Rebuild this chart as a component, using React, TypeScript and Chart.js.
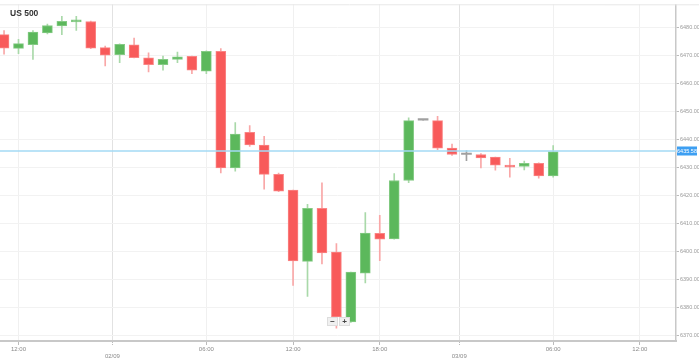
import React, { useEffect, useRef } from 'react';
import { Chart, registerables } from 'chart.js';

Chart.register(...registerables);

const chartTitle = 'US 500';

const openVals = [
  6477.3, 6472.4, 6473.7, 6477.9, 6480.4, 6481.9, 6482.0, 6472.7, 6470.2, 6473.7,
  6469.0, 6466.6, 6468.5, 6469.6, 6464.3, 6471.4, 6429.7, 6442.4, 6437.9, 6427.4,
  6421.8, 6396.3, 6415.3, 6399.6, 6374.7, 6392.1, 6406.3, 6404.3, 6425.2, 6446.8,
  6446.6, 6436.8, 6434.5, 6434.5, 6433.6, 6430.7, 6430.2, 6431.3, 6426.8,
];
const highVals = [
  6478.8, 6475.6, 6478.8, 6481.1, 6483.9, 6483.9, 6482.2, 6473.2, 6474.0, 6476.1,
  6470.8, 6469.7, 6471.1, 6469.7, 6471.5, 6472.3, 6445.9, 6444.8, 6441.0, 6427.9,
  6421.8, 6416.7, 6424.4, 6402.7, 6392.5, 6413.7, 6412.8, 6427.7, 6447.6, 6446.8,
  6448.1, 6438.2, 6435.9, 6434.8, 6433.6, 6433.1, 6432.1, 6431.5, 6437.7,
];
const lowVals = [
  6470.3, 6470.5, 6468.5, 6477.6, 6477.3, 6478.8, 6472.3, 6466.1, 6467.3, 6469.0,
  6464.0, 6464.6, 6467.3, 6463.4, 6463.4, 6427.9, 6428.5, 6437.4, 6422.1, 6421.2,
  6387.7, 6383.8, 6395.4, 6372.4, 6374.5, 6388.6, 6396.6, 6404.2, 6424.4, 6446.8,
  6436.2, 6434.2, 6432.3, 6429.7, 6428.9, 6426.4, 6429.0, 6426.0, 6426.4,
];
const closeVals = [
  6472.5, 6474.1, 6478.2, 6480.6, 6482.1, 6482.6, 6472.5, 6470.0, 6473.9, 6469.1,
  6466.6, 6468.5, 6469.4, 6464.6, 6471.4, 6429.7, 6441.8, 6437.9, 6427.4, 6421.4,
  6396.5, 6415.3, 6399.3, 6376.5, 6392.5, 6406.4, 6404.2, 6425.2, 6446.6, 6446.8,
  6436.8, 6434.5, 6434.5, 6433.3, 6430.7, 6430.0, 6431.3, 6426.8, 6435.58,
];
const currentPrice = 6435.58;

const xTickPositions = [1, 7.5, 14, 20, 26, 31.5, 38, 44];
const xTickLabels = ['12:00', '02/09', '06:00', '12:00', '18:00', '03/09', '06:00', '12:00'];
const dateLabels = ['02/09', '03/09'];
const yTickValues = [6370, 6380, 6390, 6400, 6410, 6420, 6430, 6440, 6450, 6460, 6470, 6480];

const RED = '#f85a5a';
const RED_EDGE = '#fa8585';
const RED_WICK = '#f9a7a7';
const GREEN = '#5cb85c';
const GREEN_EDGE = '#85cb85';
const GREEN_WICK = '#a9d9a9';
const GRAY = '#a0a0a0';
const FONT = '"Liberation Sans", Arial, sans-serif';

export default function App() {
  const ref = useRef<HTMLCanvasElement>(null);

  useEffect(() => {
    document.body.style.margin = '0';
    const canvas = ref.current;
    if (!canvas) return;

    const dir = (i: number) =>
      closeVals[i] > openVals[i] ? 1 : closeVals[i] < openVals[i] ? -1 : 0;
    const bodyColor = (i: number) => (dir(i) > 0 ? GREEN : dir(i) < 0 ? RED : GRAY);
    const edgeColor = (i: number) => (dir(i) > 0 ? GREEN_EDGE : dir(i) < 0 ? RED_EDGE : GRAY);
    const wickColor = (i: number) => (dir(i) > 0 ? GREEN_WICK : dir(i) < 0 ? RED_WICK : GRAY);

    const bodies = openVals.map((o, i) => ({
      x: i,
      y: [Math.min(o, closeVals[i]), Math.max(o, closeVals[i])],
    }));
    const wicks = openVals.map((_, i) => ({ x: i, y: [lowVals[i], highVals[i]] }));

    const overlay = {
      id: 'overlay',
      afterDraw(chart: any) {
        const { ctx, chartArea } = chart;
        const yScale = chart.scales.y;
        ctx.save();
        // top border line
        ctx.strokeStyle = '#e8e8e8';
        ctx.lineWidth = 1;
        ctx.beginPath();
        ctx.moveTo(0, chartArea.top + 0.5);
        ctx.lineTo(chart.width, chartArea.top + 0.5);
        ctx.stroke();

        // current price line
        const py = Math.round(yScale.getPixelForValue(currentPrice));
        ctx.strokeStyle = '#a3daf5';
        ctx.lineWidth = 1.6;
        ctx.beginPath();
        ctx.moveTo(chartArea.left, py);
        ctx.lineTo(chartArea.right, py);
        ctx.stroke();
        // price label
        ctx.fillStyle = '#3d9ff2';
        ctx.fillRect(chartArea.right + 1, py - 4.5, 20, 9);
        ctx.fillStyle = '#ffffff';
        ctx.font = `5.5px ${FONT}`;
        ctx.textAlign = 'center';
        ctx.textBaseline = 'middle';
        ctx.fillText(currentPrice.toFixed(2), chartArea.right + 11, py + 0.5);

        // title
        ctx.fillStyle = '#333333';
        ctx.font = `bold 8.5px ${FONT}`;
        ctx.textAlign = 'left';
        ctx.textBaseline = 'alphabetic';
        ctx.fillText(chartTitle, 10, 16);

        // zoom buttons
        const bx = 327, by = 317, bw = 11, bh = 9;
        ['\u2212', '+'].forEach((s, k) => {
          const x = bx + k * (bw + 1);
          ctx.fillStyle = '#f0f0f0';
          ctx.fillRect(x, by, bw, bh);
          ctx.strokeStyle = '#dddddd';
          ctx.lineWidth = 1;
          ctx.strokeRect(x + 0.5, by + 0.5, bw - 1, bh - 1);
          ctx.fillStyle = '#444444';
          ctx.font = `bold 8px ${FONT}`;
          ctx.textAlign = 'center';
          ctx.textBaseline = 'middle';
          ctx.fillText(s, x + bw / 2, by + bh / 2 + 0.5);
        });
        ctx.restore();
      },
    };

    const chart = new Chart(canvas, {
      type: 'bar',
      data: {
        datasets: [
          {
            label: 'body',
            data: bodies as any,
            order: 0,
            grouped: false,
            barThickness: 10,
            minBarLength: 1.5,
            backgroundColor: openVals.map((_, i) => bodyColor(i)),
            borderColor: openVals.map((_, i) => edgeColor(i)),
            borderWidth: openVals.map((_, i) => (dir(i) === 0 ? 0 : 1)),
            borderSkipped: false,
          } as any,
          {
            label: 'wick',
            data: wicks as any,
            order: 1,
            grouped: false,
            barThickness: 1,
            backgroundColor: openVals.map((_, i) => wickColor(i)),
            borderWidth: 0,
          } as any,
        ],
      },
      options: {
        responsive: false,
        animation: false,
        events: [],
        layout: { padding: { top: 2, left: 0, right: 0, bottom: 0 } },
        plugins: {
          legend: { display: false },
          tooltip: { enabled: false },
          title: { display: false },
        },
        scales: {
          x: {
            type: 'linear',
            min: -0.28,
            max: 46.5,
            offset: false,
            afterBuildTicks: (s: any) => {
              s.ticks = xTickPositions.map((v) => ({ value: v }));
            },
            afterFit: (s: any) => {
              s.height = 18;
            },
            ticks: {
              autoSkip: false,
              maxRotation: 0,
              minRotation: 0,
              padding: 1,
              color: '#8a8a8a',
              font: { size: 6, family: FONT },
              callback: (_v: any, i: number) =>
                dateLabels.includes(xTickLabels[i]) ? ['', xTickLabels[i]] : xTickLabels[i],
            },
            grid: {
              offset: false,
              color: (c: any) =>
                c.tick && dateLabels.includes(xTickLabels[c.index]) ? '#e2e2e2' : '#f0f0f0',
              tickColor: '#bbbbbb',
              tickLength: 4,
              tickBorderDash: (c: any) =>
                c.tick && dateLabels.includes(xTickLabels[c.index]) ? [1, 1] : [],
            },
            border: { color: '#c8c8c8', width: 2 },
          } as any,
          y: {
            type: 'linear',
            position: 'right',
            min: 6367.86,
            max: 6488.16,
            afterBuildTicks: (s: any) => {
              s.ticks = yTickValues.map((v) => ({ value: v }));
            },
            afterFit: (s: any) => {
              s.width = 23;
            },
            ticks: {
              padding: 1,
              color: '#9a9a9a',
              font: { size: 5.5, family: FONT },
              callback: (v: any) => Number(v).toFixed(2),
            },
            grid: { color: '#f2f2f2', tickColor: '#bbbbbb', tickLength: 3 },
            border: { color: '#c8c8c8', width: 1.5 },
          } as any,
        },
      },
      plugins: [overlay],
    });

    return () => chart.destroy();
  }, []);

  return <canvas ref={ref} width={699} height={359} style={{ display: 'block' }} />;
}
